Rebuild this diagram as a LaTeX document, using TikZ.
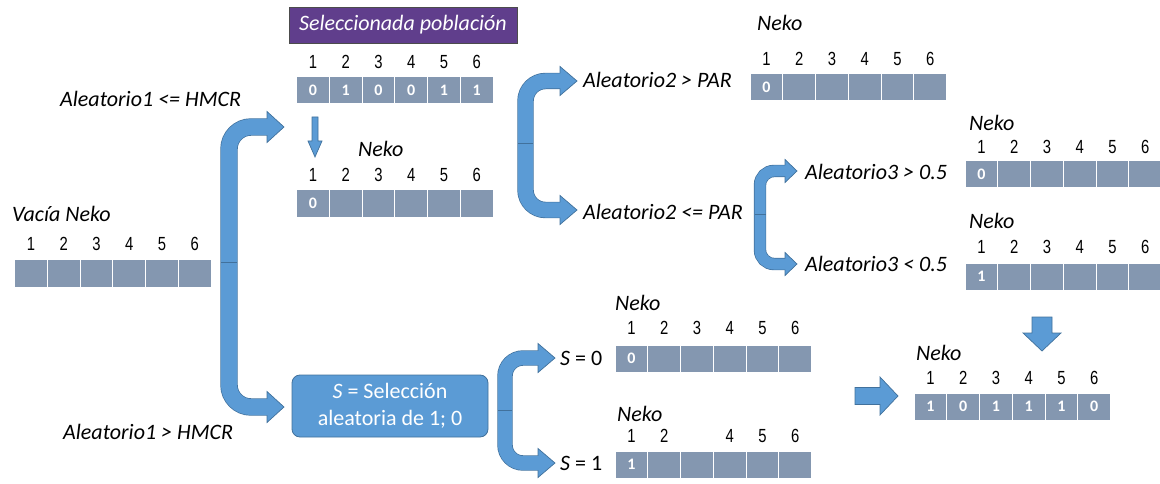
\documentclass[tikz,border=0pt]{standalone}
\usepackage{fontspec}
\setmainfont{Carlito}
\newfontfamily\numfont[FakeStretch=0.78]{Liberation Sans}
\definecolor{ablue}{RGB}{91,155,213}
\definecolor{abord}{RGB}{65,113,156}
\definecolor{cellc}{RGB}{132,151,176}
\definecolor{purp}{RGB}{96,62,140}
\tikzset{
  cellbox/.style={draw=white, line width=1pt, fill=cellc, minimum width=32.75pt,
    minimum height=27pt, inner sep=0pt, text=white, font=\fontsize{16}{16}\selectfont\bfseries},
  numlbl/.style={font=\numfont\fontsize{19}{19}\selectfont, inner sep=0pt, anchor=center},
  lbl/.style={font=\fontsize{22}{26}\selectfont\itshape, inner sep=0pt, anchor=base west},
  blockarrow/.style={fill=ablue, draw=abord, line width=0.7pt, line join=miter}
}
\newcommand\cellrow[5]{\foreach \v [count=\i] in {#5} \node[cellbox, minimum height=#4pt] (#1-\i) at ({#2+(\i-0.5)*32.75},{#3+#4/2}) {\v};}
\newcommand\numrow[4]{\foreach \v [count=\i] in {#4} \node[numlbl] (#1-\i) at ({#2+(\i-0.5)*32.75},#3) {\v};}
% bracket arrow: #1 xs, #2 ytop, #3 ybot, #4 head base x, #5 tip x, #6 width, #7 half head, #8 radius, #9 ymid
\newcommand\brk[9]{%
  \draw[line width={#6pt+1.4pt}, draw=abord, rounded corners=#8pt] (#4,#2) -| (#1,#9) |- (#4,#3);
  \filldraw[blockarrow] (#4,{#2-#7}) -- (#5,#2) -- (#4,{#2+#7}) -- cycle;
  \filldraw[blockarrow] (#4,{#3-#7}) -- (#5,#3) -- (#4,{#3+#7}) -- cycle;
  \draw[line width=#6pt, draw=ablue, rounded corners=#8pt] ({#4+1.5},#2) -| (#1,#9) |- ({#4+1.5},#3);
  \draw[abord, line width=0.8pt] ({#1-#6/2},#9) -- ({#1+#6/2},#9);
}
\begin{document}
\begin{tikzpicture}[x=1pt,y=-1pt]
\useasboundingbox (0,0) rectangle (1160,484);
\begin{scope}
\clip (0,0) rectangle (1160,484);

% brackets
\brk{229}{127}{407}{267}{284}{16}{15.5}{22}{262}
\brk{505}{358}{463}{538}{555}{14}{14.5}{18}{410}
\brk{525.5}{81}{210}{560}{577}{15}{14.5}{20}{143}
\brk{760}{171}{264}{785}{797}{11}{11.5}{14}{214}

% title box
\node[fill=purp, draw=black!70, line width=0.8pt, minimum width=228pt, minimum height=36pt, inner sep=0pt,
  text=white, font=\fontsize{22}{26}\selectfont\itshape] (sel) at (403,25) {Seleccionada población};

% population array
\numrow{nA}{296.5}{62}{1,2,3,4,5,6}
\cellrow{cA}{296.5}{77}{27}{0,1,0,0,1,1}

% small down arrow
\filldraw[blockarrow] (312,117) -- (318,117) -- (318,141) -- (322,141) -- (315,157) -- (308,141) -- (312,141) -- cycle;

% Neko B
\node[lbl] (lB) at (358,157) {Neko};
\numrow{nB}{296.5}{175}{1,2,3,4,5,6}
\cellrow{cB}{296.5}{190}{27}{0,{},{},{},{},{}}

% Vacia Neko
\node[lbl] (lV) at (12,222) {Vacía Neko};
\numrow{nV}{14.5}{244}{1,2,3,4,5,6}
\cellrow{cV}{14.5}{259}{28}{{},{},{},{},{},{}}

% Aleatorio1 labels
\node[lbl] (a1le) at (60,107) {Aleatorio1 <= HMCR};
\node[lbl] (a1gt) at (63,439) {Aleatorio1 > HMCR};

% S box
\node[fill=ablue, draw=abord, line width=0.8pt, rounded corners=8pt, minimum width=196pt, minimum height=62pt,
  inner sep=0pt, text=white, align=center, font=\fontsize{22}{27}\selectfont] (sbox) at (390,406)
  {\textit{S} = Selección\\aleatoria de 1; 0};

% S = 0 / S = 1
\node[lbl, font=\fontsize{22}{26}\selectfont] (s0) at (560,365) {\textit{S} = 0};
\node[lbl, font=\fontsize{22}{26}\selectfont] (s1) at (560,470) {\textit{S} = 1};
\node[lbl] (lS0) at (615,310) {Neko};
\numrow{nS0}{615}{328}{1,2,3,4,5,6}
\cellrow{cS0}{615}{345}{27}{0,{},{},{},{},{}}
\node[lbl] (lS1) at (617,421) {Neko};
\numrow{nS1}{615}{436}{1,2,{},4,5,6}
\cellrow{cS1}{615}{451}{27}{1,{},{},{},{},{}}

% Aleatorio2
\node[lbl] (a2gt) at (583,88) {Aleatorio2 > PAR};
\node[lbl] (a2le) at (583,219) {Aleatorio2 <= PAR};
\node[lbl] (lT) at (757,31) {Neko};
\numrow{nT}{750}{59}{1,2,3,4,5,6}
\cellrow{cT}{750}{74}{27}{0,{},{},{},{},{}}

% Aleatorio3
\node[lbl] (a3gt) at (805,179) {Aleatorio3 > 0.5};
\node[lbl] (a3lt) at (805,271) {Aleatorio3 < 0.5};
\node[lbl] (lM) at (969,131) {Neko};
\numrow{nM}{965}{147}{1,2,3,4,5,6}
\cellrow{cM}{965}{161}{27}{0,{},{},{},{},{}}
\node[lbl] (lL) at (969,229) {Neko};
\numrow{nL}{965}{247}{1,2,3,4,5,6}
\cellrow{cL}{965}{263}{27}{1,{},{},{},{},{}}

% final
\filldraw[blockarrow] (855,387.5) -- (880,387.5) -- (880,377) -- (898,396) -- (880,415) -- (880,404.5) -- (855,404.5) -- cycle;
\filldraw[blockarrow] (1032,317) -- (1052,317) -- (1052,333) -- (1061,333) -- (1042,351) -- (1023,333) -- (1032,333) -- cycle;
\node[lbl] (lF) at (916,360) {Neko};
\numrow{nF}{914}{378}{1,2,3,4,5,6}
\cellrow{cF}{914}{393}{27}{1,0,1,1,1,0}
\end{scope}
\end{tikzpicture}
\end{document}
